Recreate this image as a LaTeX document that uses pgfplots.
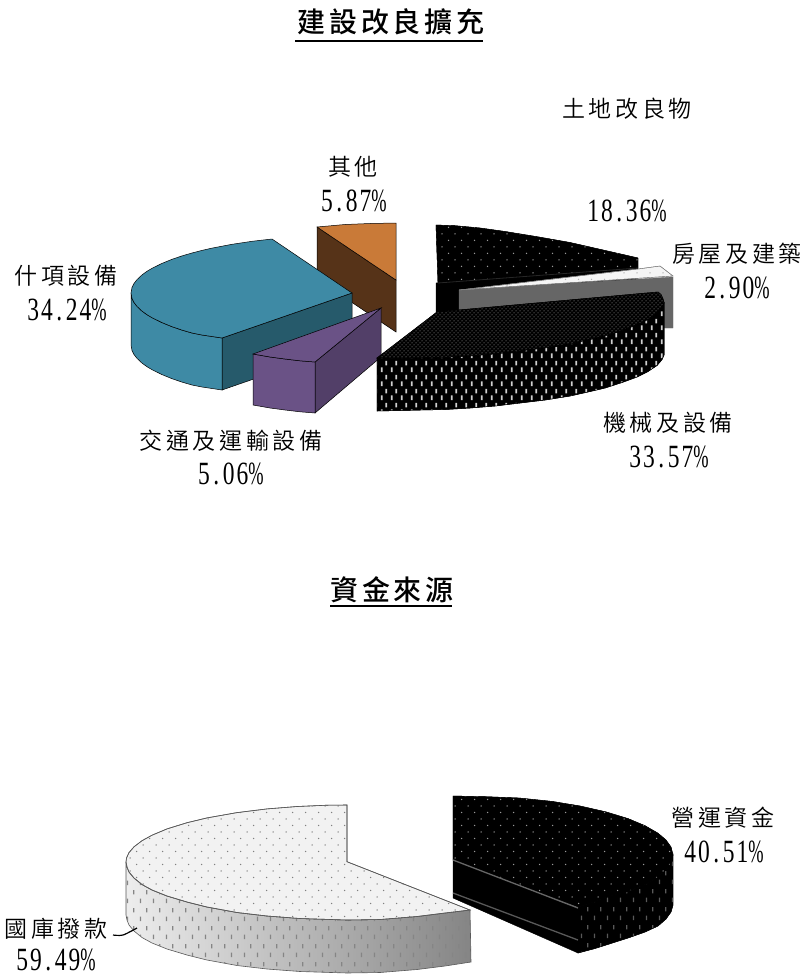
\documentclass[border=0pt]{standalone}
\usepackage{fontspec}
\usepackage{pgfplots}
\pgfplotsset{compat=1.18}
\usetikzlibrary{patterns}
\setmainfont{Liberation Serif}
\newfontfamily\cjk[LetterSpace=16]{Noto Sans CJK TC DemiLight}
\newfontfamily\cjkhead[LetterSpace=14]{Noto Sans CJK TC Medium}

% surface textures of the slices
\pgfdeclarepatternformonly{coarsedots}{\pgfqpoint{-1pt}{-1pt}}{\pgfqpoint{14pt}{14pt}}{\pgfqpoint{13pt}{13pt}}{%
  \pgfpathcircle{\pgfqpoint{0pt}{0pt}}{.75pt}\pgfpathcircle{\pgfqpoint{6.5pt}{6.5pt}}{.75pt}\pgfusepath{fill}}
\pgfdeclarepatternformonly{finedots}{\pgfqpoint{-1pt}{-1pt}}{\pgfqpoint{5pt}{5pt}}{\pgfqpoint{4pt}{4pt}}{%
  \pgfpathcircle{\pgfqpoint{0pt}{0pt}}{.5pt}\pgfpathcircle{\pgfqpoint{2pt}{2pt}}{.5pt}\pgfusepath{fill}}
\pgfdeclarepatternformonly{wallticks}{\pgfqpoint{0pt}{0pt}}{\pgfqpoint{12.6pt}{18pt}}{\pgfqpoint{12.6pt}{18pt}}{%
  \pgfpathrectangle{\pgfqpoint{1pt}{1pt}}{\pgfqpoint{1.2pt}{4.5pt}}\pgfpathrectangle{\pgfqpoint{7.3pt}{10pt}}{\pgfqpoint{1.2pt}{4.5pt}}\pgfusepath{fill}}
\pgfdeclarepatternformonly{denseticks}{\pgfqpoint{0pt}{0pt}}{\pgfqpoint{10pt}{14pt}}{\pgfqpoint{10pt}{14pt}}{%
  \pgfpathrectangle{\pgfqpoint{1pt}{1pt}}{\pgfqpoint{1.8pt}{5pt}}\pgfpathrectangle{\pgfqpoint{6pt}{8pt}}{\pgfqpoint{1.8pt}{5pt}}\pgfusepath{fill}}

\definecolor{orangeTop}{HTML}{C97A38}
\definecolor{orangeWall}{HTML}{563318}
\definecolor{tealTop}{HTML}{3E8AA5}
\definecolor{tealCut}{HTML}{265A6B}
\definecolor{purpleTop}{HTML}{6A5286}
\definecolor{purpleCut}{HTML}{523F68}

\newcommand{\lab}[3]{\node[inner sep=0pt] at (axis cs:#1,#2) {\fontsize{23}{24}\selectfont\cjk #3};}
% percentage label: whole part, decimals; the point and the percent sign keep a narrow even pitch
\newcommand{\val}[4]{\node[inner sep=0pt] at (axis cs:#1,#2) {\scalebox{1}[1.38]{\fontsize{23.5}{24}\selectfont\addfontfeature{LetterSpace=9}#3\kern3.5pt.\kern3.5pt#4\scalebox{.78}[1]{\%}}};}

\begin{document}
\begin{tikzpicture}
\begin{axis}[
  scale only axis, width=805pt, height=975pt,
  xmin=0, xmax=805, ymin=0, ymax=975, y dir=reverse,
  hide axis, clip=false, no markers,
]
\path[use as bounding box] (axis cs:0,0) rectangle (axis cs:805,975);

% ---- capital expansion pie ----
% other
\addplot[draw=black, line width=.5pt, fill=orangeWall] coordinates {(317,227)(396,280)(396,332)(317,279)} --cycle;
\addplot[draw=black, line width=.5pt, fill=orangeTop] coordinates {(317,227)(345,224.5)(370,223.5)(396,223)(396,280)} --cycle;

% furnishings
\addplot[draw=black, line width=.5pt, fill=tealCut] coordinates {(352,293)(222,338)(222,390)(352,345)} --cycle;
\addplot[draw=black, line width=.5pt, fill=tealTop] coordinates {(131,293)(132,298.5)(134,302.5)(137,306.4)(142,311.1)(147,314.7)(152,317.7)(162,322.6)(172,326.7)(182,330.1)(192,333)(202,335)(212,336.5)(222,338)(222,390)(212,388.5)(202,387)(192,385)(182,382.1)(172,378.7)(162,374.6)(152,369.7)(147,366.7)(142,363.1)(137,358.4)(134,354.5)(132,350.5)(131,345)} --cycle;
\addplot[draw=black, line width=.5pt, fill=tealTop] coordinates {(352,293)(272,239)(252,241.3)(232,244.3)(212,248.1)(202,250.4)(192,253)(182,255.9)(172,259.3)(162,263.4)(152,268.3)(147,271.3)(142,274.9)(137,279.6)(134,283.5)(132,287.5)(131,293)(132,298.5)(134,302.5)(137,306.4)(142,311.1)(147,314.7)(152,317.7)(162,322.6)(172,326.7)(182,330.1)(192,333)(202,335)(212,336.5)(222,338)} --cycle;

% transport equipment
\addplot[draw=black, line width=.5pt, fill=purpleCut] coordinates {(315,362)(381,308)(381,357)(315,413)} --cycle;
\addplot[draw=black, line width=.5pt, fill=purpleTop] coordinates {(253,354)(270,357)(285,359)(300,360.8)(315,362)(315,413)(300,411.8)(285,410)(270,408)(253,405)} --cycle;
\addplot[draw=black, line width=.5pt, fill=purpleTop] coordinates {(253,354)(381,308)(315,362)(300,360.8)(285,359)(270,357)} --cycle;

% land improvements
\addplot[draw=black, fill=black] coordinates {(436,283)(638,268)(638,315)(436,335)} --cycle;
\addplot[draw=black, fill=black, postaction={pattern=coarsedots, pattern color=gray!80}] coordinates {(436,225)(455,225.7)(480,228)(505,231.5)(537,236.7)(570,242.5)(603,250)(625,255)(638,258)(638,268)(438,283)} --cycle;
\addplot[color=black!85, line width=.8pt] coordinates {(438,283)(638,268)};

% buildings
\addplot[draw=black!60, line width=.4pt, fill=black!60] coordinates {(459,290)(673,277)(673,328)(660,328)(459,330)} --cycle;
\addplot[draw=black!50, line width=.4pt, fill=black!4, postaction={pattern=coarsedots, pattern color=gray!60}] coordinates {(459,290)(638,269)(660,266)(673,276)} --cycle;

% machinery
\addplot[draw=black, line width=.5pt, fill=black, postaction={pattern=finedots, pattern color=gray!55}] coordinates {(437,312)(658,292)(661,294.5)(663,299)(664,303)(662,307.5)(657,313.5)(648,319.5)(637,325)(622,330.5)(605,336)(590,339.5)(570,344)(545,348)(520,351)(495,354)(470,356)(445,357.5)(420,358)(400,358.5)(377,358)} --cycle;
\addplot[draw=black, line width=.5pt, fill=black, postaction={pattern=denseticks, pattern color=gray!38}] coordinates {(377,358)(400,358.5)(420,358)(445,357.5)(470,356)(495,354)(520,351)(545,348)(570,344)(590,339.5)(605,336)(622,330.5)(637,325)(648,319.5)(657,313.5)(662,307.5)(664,303)(664,355)(662,359.5)(657,365.5)(648,371.5)(637,377)(622,382.5)(605,388)(590,391.5)(570,396)(545,400)(520,403)(495,406)(470,408)(445,409.5)(420,410)(400,410.5)(377,411)} --cycle;

% ---- funding sources pie ----
% treasury allocation
\addplot[draw=black!65, line width=.6pt, left color=black!7, middle color=black!12, right color=black!48] coordinates {(126,862)(127,867)(129,872)(134,878)(142,884.5)(152,890)(167,896)(187,902)(207,907)(237,912.5)(267,916)(300,918.5)(347,920)(380,919.5)(417,916.5)(445,913)(470,910)(471,962)(445,966)(417,969.5)(380,972.5)(347,973)(300,971.5)(267,969)(237,965.5)(207,960)(187,955)(167,949)(152,943)(142,937.5)(134,931)(129,925)(127,920)(126,915)} --cycle;
\addplot[draw=none, pattern=wallticks, pattern color=black!48] coordinates {(126,862)(127,867)(129,872)(134,878)(142,884.5)(152,890)(167,896)(187,902)(207,907)(237,912.5)(267,916)(300,918.5)(347,920)(380,919.5)(417,916.5)(445,913)(470,910)(471,962)(445,966)(417,969.5)(380,972.5)(347,973)(300,971.5)(267,969)(237,965.5)(207,960)(187,955)(167,949)(152,943)(142,937.5)(134,931)(129,925)(127,920)(126,915)} --cycle;
\addplot[draw=black!65, line width=.6pt, fill=black!5, postaction={pattern=coarsedots, pattern color=black!50}] coordinates {(347,805)(327,805.2)(297,806.5)(267,808.9)(237,812.6)(207,817.9)(187,822.7)(167,828.9)(152,835.2)(142,840.7)(134,846.8)(129,852.6)(126.5,858)(126,862)(127,867)(129,872)(134,878)(142,884.5)(152,890)(167,896)(187,902)(207,907)(237,912.5)(267,916)(300,918.5)(347,920)(380,919.5)(417,916.5)(445,913)(470,910)(347,861.7)} --cycle;

% operating funds
\addplot[draw=black, fill=black] coordinates {(453,860)(578,908)(578,953)(453,898)} --cycle;
\addplot[draw=black, fill=black, postaction={pattern=wallticks, pattern color=black!65}] coordinates {(578,907)(595,901.5)(606,897)(628,891.5)(645,884.5)(658,877)(666,870)(671,863)(673,855)(673,905)(671,912)(666,919)(658,926)(645,932)(628,938)(606,945)(595,948.5)(578,953)} --cycle;
\addplot[draw=black, fill=black, postaction={pattern=coarsedots, pattern color=black!40}] coordinates {(453,796)(486,796.7)(519,798)(552,801.4)(580,806)(606,811.9)(628,818.6)(645,825.7)(658,833.2)(666,840)(671,847)(673,855)(671,863)(666,870)(658,877)(645,884.5)(628,891.5)(606,897)(595,901.5)(578,907)(453,860)} --cycle;
\addplot[color=black!60, line width=1.3pt] coordinates {(453,860)(578,908)};
\addplot[color=black!65, line width=1.3pt] coordinates {(453,893)(578,940)};

% leader of the treasury label
\addplot[color=black, line width=1.2pt, smooth] coordinates {(113,935)(123,935)(137,928)};

% ---- headings ----
\addplot[color=black, line width=1.3pt] coordinates {(295,41)(483,41)};
\addplot[color=black, line width=1.3pt] coordinates {(330,606)(452,606)};
\node[inner sep=0pt] at (axis cs:391,22) {\fontsize{28}{29}\selectfont\cjkhead 建設改良擴充};
\node[inner sep=0pt] at (axis cs:392,590) {\fontsize{28}{29}\selectfont\cjkhead 資金來源};

% ---- slice labels ----
\lab{627}{109}{土地改良物}
\val{627}{211}{18}{36}
\lab{353}{167}{其他}
\val{354}{201}{5}{87}
\lab{66}{276}{什項設備}
\val{67}{310}{34}{24}
\lab{737}{254}{房屋及建築}
\val{737}{288}{2}{90}
\lab{668}{423}{機械及設備}
\val{669}{457}{33}{57}
\lab{231}{441}{交通及運輸設備}
\val{231}{474}{5}{06}
\lab{723}{818}{營運資金}
\val{724}{852}{40}{51}
\lab{56}{929}{國庫撥款}
\val{56}{960}{59}{49}
\end{axis}
\end{tikzpicture}
\end{document}
